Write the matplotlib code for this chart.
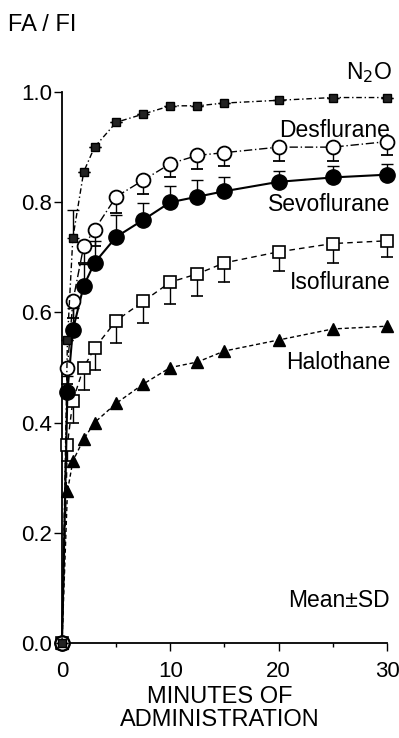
import matplotlib
matplotlib.use('Agg')
import matplotlib.pyplot as plt

plt.rcParams['font.family'] = ['Liberation Sans', 'DejaVu Sans']

# minutes of administration
minutes = [0, 0.5, 1, 2, 3, 5, 7.5, 10, 12.5, 15, 20, 25, 30]

# FA/FI, mean values
n2o = [0, 0.55, 0.735, 0.855, 0.90, 0.945, 0.96, 0.975, 0.975, 0.98, 0.985, 0.99, 0.99]
desflurane = [0, 0.50, 0.62, 0.72, 0.75, 0.81, 0.84, 0.87, 0.885, 0.89, 0.90, 0.90, 0.91]
sevoflurane = [0, 0.455, 0.568, 0.648, 0.69, 0.737, 0.768, 0.80, 0.81, 0.82, 0.837, 0.845, 0.85]
isoflurane = [0, 0.36, 0.44, 0.50, 0.535, 0.585, 0.62, 0.655, 0.67, 0.69, 0.71, 0.725, 0.73]
halothane = [0, 0.275, 0.33, 0.37, 0.40, 0.435, 0.47, 0.50, 0.51, 0.53, 0.55, 0.57, 0.575]

# SD (only one side drawn in the original)
n2o_sd = [0, 0, 0.05, 0, 0, 0, 0, 0, 0, 0, 0, 0, 0]
des_sd = [0, 0.03, 0.03, 0.03, 0.03, 0.03, 0.025, 0.025, 0.025, 0.025, 0.025, 0.025, 0.025]
sevo_sd = [0, 0.03, 0.04, 0.04, 0.04, 0.04, 0.03, 0.03, 0.03, 0.025, 0.02, 0.02, 0.02]
iso_sd = [0, 0.03, 0.04, 0.04, 0.04, 0.04, 0.04, 0.04, 0.04, 0.035, 0.035, 0.035, 0.03]

zeros = [0] * len(minutes)

fig = plt.figure(figsize=(3.99, 7.38), dpi=100)
ax = fig.add_axes([0.1554, 0.1287, 0.8145, 0.7466])

ax.spines['top'].set_visible(False)
ax.spines['right'].set_visible(False)

common = dict(color='black', ecolor='black', elinewidth=1, capsize=4, clip_on=False)

# N2O: small dark squares, dash-dot line
ax.errorbar(minutes, n2o, yerr=[zeros, n2o_sd], fmt='s', ls=(0, (4, 2, 1, 2)), lw=1,
            ms=6, mfc='#222222', mec='black', zorder=6, **common)
# desflurane: open circles, long dash-dot
ax.errorbar(minutes, desflurane, yerr=[des_sd, zeros], fmt='o', ls=(0, (6, 2, 1, 2)), lw=1,
            ms=10, mfc='white', mec='black', mew=1.3, zorder=5, **common)
# sevoflurane: filled circles, solid
ax.errorbar(minutes, sevoflurane, yerr=[zeros, sevo_sd], fmt='o', ls='-', lw=1.5,
            ms=11, mfc='black', mec='black', zorder=4, **common)
# isoflurane: open squares, dashed
ax.errorbar(minutes, isoflurane, yerr=[iso_sd, zeros], fmt='s', ls=(0, (4, 3)), lw=1,
            ms=8, mfc='white', mec='black', mew=1.2, zorder=3, **common)
# halothane: filled triangles, short dashes
ax.plot(minutes, halothane, marker='^', ls=(0, (3, 2)), lw=1, ms=9,
        color='black', zorder=3, clip_on=False)

ax.set_xlim(0, 30)
ax.set_ylim(0, 1.0)
ax.set_xticks([0, 10, 20, 30])
ax.set_xticks([5, 15, 25], minor=True)
ax.set_yticks([0, 0.2, 0.4, 0.6, 0.8, 1.0])
ax.set_yticklabels(['0.0', '0.2', '0.4', '0.6', '0.8', '1.0'])
ax.tick_params(axis='both', which='major', direction='out', length=6, width=1,
               labelsize=16, colors='black')
ax.tick_params(axis='x', which='major', pad=7)
ax.tick_params(axis='y', which='major', pad=1)
ax.tick_params(axis='x', which='minor', direction='out', length=3, width=1)
for s in ['left', 'bottom']:
    ax.spines[s].set_linewidth(1.3)

# curve labels
ax.text(30.5, 1.036, 'N$_2$O', ha='right', va='center', fontsize=16.5)
ax.text(30.3, 0.931, 'Desflurane', ha='right', va='center', fontsize=16.5)
ax.text(30.3, 0.795, 'Sevoflurane', ha='right', va='center', fontsize=16.5)
ax.text(30.3, 0.655, 'Isoflurane', ha='right', va='center', fontsize=16.5)
ax.text(30.3, 0.51, 'Halothane', ha='right', va='center', fontsize=16.5)
ax.text(30.3, 0.078, 'Mean\u00b1SD', ha='right', va='center', fontsize=16.5)

fig.text(0.02, 0.966, 'FA / FI', ha='left', va='center', fontsize=17)
fig.text(0.551, 0.040, 'MINUTES OF\nADMINISTRATION', ha='center', va='center',
         fontsize=17, linespacing=1.05)

fig.savefig('out.png', dpi=100)
